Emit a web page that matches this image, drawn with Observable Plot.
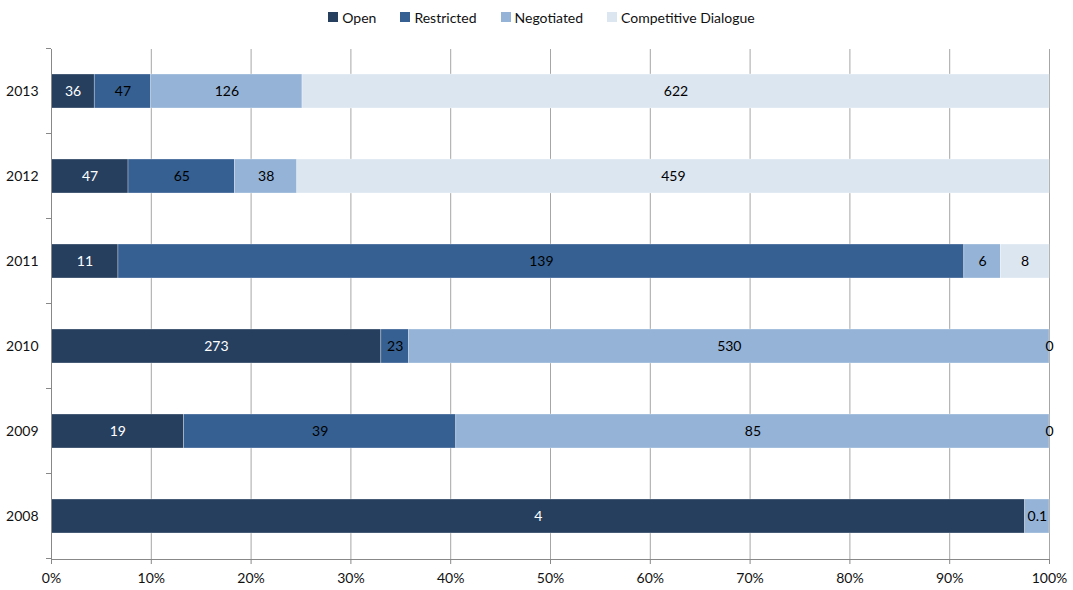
<!DOCTYPE html>
<html>
<head>
<meta charset="utf-8">
<script src="https://cdn.jsdelivr.net/npm/d3@7"></script>
<script src="https://cdn.jsdelivr.net/npm/@observablehq/plot@0.6"></script>
<style>
  body { margin: 0; background: white; font-family: Lato, "Liberation Sans", sans-serif; }
  #legend { height: 36px; display: flex; justify-content: center; align-items: center; gap: 24px; font-size: 14px; color: #111; padding-left: 10px; padding-bottom: 2px; box-sizing: border-box; }
  #legend .item { display: flex; align-items: center; gap: 4px; }
  #legend .sw { width: 10px; height: 10px; display: inline-block; }
  #chart svg { display: block; }
</style>
</head>
<body>
<div id="legend"></div>
<div id="chart"></div>
<script>
const years = ["2013", "2012", "2011", "2010", "2009", "2008"];
const types = ["Open", "Restricted", "Negotiated", "Competitive Dialogue"];
const colors = ["#263F5F", "#366092", "#95B3D7", "#DCE6F1"];
const openVals = [36, 47, 11, 273, 19, 4];
const restrictedVals = [47, 65, 139, 23, 39, null];
const negotiatedVals = [126, 38, 6, 530, 85, 0.1];
const dialogueVals = [622, 459, 8, 0, 0, null];
const xTicks = [0, 0.1, 0.2, 0.3, 0.4, 0.5, 0.6, 0.7, 0.8, 0.9, 1];

const series = [openVals, restrictedVals, negotiatedVals, dialogueVals];
const rows = [];
types.forEach((t, i) => {
  years.forEach((y, j) => {
    const v = series[i][j];
    if (v !== null) rows.push({ year: y, type: t, value: v });
  });
});

// legend
const legend = document.getElementById("legend");
types.forEach((t, i) => {
  const it = document.createElement("div");
  it.className = "item";
  it.innerHTML = `<span class="sw" style="background:${colors[i]}"></span><span>${t}</span>`;
  legend.appendChild(it);
});

const axisExtras = (index, scales, values, dims) => {
  const g = d3.create("svg:g").attr("stroke", "#888").attr("shape-rendering", "crispEdges");
  const y = scales.y;
  const step = y.step(), bw = y.bandwidth();
  const left = dims.marginLeft;
  const bottom = dims.height - dims.marginBottom;
  const bounds = years.map(yr => y(yr) + bw / 2 - step / 2);
  bounds.push(y(years[years.length - 1]) + bw / 2 + step / 2);
  bounds.forEach(b => {
    g.append("line").attr("x1", left - 5).attr("x2", left).attr("y1", b).attr("y2", b);
  });
  g.append("line").attr("x1", left).attr("x2", dims.width - dims.marginRight)
    .attr("y1", bottom).attr("y2", bottom);
  return g.node();
};

const chart = Plot.plot({
  width: 1073,
  height: 554,
  marginLeft: 51,
  marginRight: 24,
  marginTop: 13,
  marginBottom: 31,
  style: { fontFamily: "Lato, 'Liberation Sans', sans-serif", fontSize: "14px", color: "#111", background: "white" },
  x: { domain: [0, 1] },
  y: { domain: years, paddingInner: 0.6, paddingOuter: 0.3 },
  color: { domain: types, range: colors },
  marks: [
    Plot.ruleX(xTicks, { stroke: "#a6a6a6" }),
    Plot.barX(rows, Plot.stackX({
      offset: "normalize", x: "value", y: "year", fill: "type", z: "type",
      stroke: "white", strokeWidth: 0.6, strokeOpacity: 0.5
    })),
    Plot.text(rows, Plot.stackX({
      offset: "normalize", x: "value", y: "year", z: "type",
      text: d => String(d.value),
      fill: d => d.type === "Open" ? "white" : "black",
      fontSize: 14
    })),
    Plot.ruleX([0], { stroke: "#888" }),
    axisExtras,
    Plot.axisY({ tickSize: 0, tickPadding: 13, fontSize: 14, label: null }),
    Plot.axisX({ ticks: xTicks, tickFormat: d3.format(".0%"), tickSize: 5, tickPadding: 9, stroke: "#888", fontSize: 14, label: null })
  ]
});
document.getElementById("chart").appendChild(chart);
</script>
</body>
</html>
